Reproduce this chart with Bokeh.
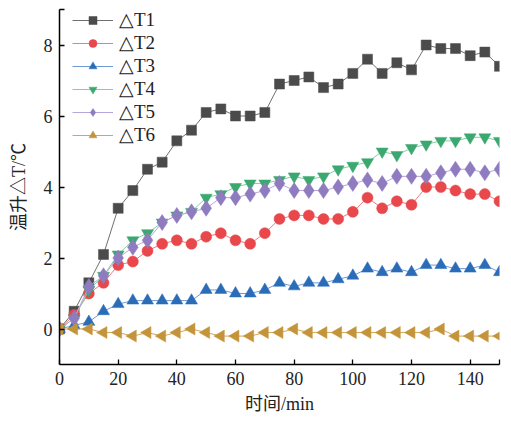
import numpy as np
from bokeh.plotting import figure
from bokeh.models import FixedTicker, Legend, LegendItem, Range1d
from bokeh.embed import file_html
from bokeh.resources import INLINE

time_min = list(range(0, 155, 5))

dT1 = [0.0, 0.5, 1.3, 2.1, 3.4, 3.9, 4.5, 4.7, 5.3, 5.6, 6.1, 6.2, 6.0, 6.0, 6.1, 6.9,
       7.0, 7.1, 6.8, 6.9, 7.2, 7.6, 7.2, 7.5, 7.3, 8.0, 7.9, 7.9, 7.7, 7.8, 7.4]
dT2 = [0.0, 0.4, 1.0, 1.3, 1.8, 1.9, 2.2, 2.4, 2.5, 2.4, 2.6, 2.7, 2.5, 2.4, 2.7, 3.1,
       3.2, 3.2, 3.1, 3.1, 3.3, 3.7, 3.4, 3.6, 3.5, 4.0, 4.0, 3.9, 3.8, 3.8, 3.6]
dT3 = [0.0, 0.1, 0.2, 0.5, 0.7, 0.8, 0.8, 0.8, 0.8, 0.8, 1.1, 1.1, 1.0, 1.0, 1.1, 1.3,
       1.2, 1.3, 1.3, 1.4, 1.5, 1.7, 1.6, 1.7, 1.6, 1.8, 1.8, 1.7, 1.7, 1.8, 1.6]
dT4 = [0.0, 0.3, 1.1, 1.5, 2.1, 2.5, 2.7, 3.0, 3.2, 3.3, 3.7, 3.8, 4.0, 4.1, 4.1, 4.2,
       4.3, 4.2, 4.3, 4.5, 4.6, 4.7, 5.0, 4.9, 5.1, 5.2, 5.3, 5.3, 5.4, 5.4, 5.3]
dT5 = [0.0, 0.3, 1.2, 1.5, 2.0, 2.3, 2.5, 3.0, 3.2, 3.3, 3.4, 3.7, 3.7, 3.8, 3.9, 4.1,
       3.9, 3.9, 3.9, 4.0, 4.1, 4.2, 4.1, 4.3, 4.3, 4.3, 4.4, 4.5, 4.5, 4.4, 4.5]
dT6 = [0.0, 0.0, 0.0, -0.1, -0.1, -0.2, -0.1, -0.2, -0.1, 0.0, -0.1, -0.2, -0.2, -0.2, -0.1, -0.1,
       0.0, -0.1, -0.1, -0.1, -0.1, -0.1, -0.1, -0.1, -0.1, -0.1, 0.0, -0.2, -0.2, -0.2, -0.2]

labels = ["△T1", "△T2", "△T3", "△T4", "△T5", "△T6"]
x_ticks = [0, 20, 40, 60, 80, 100, 120, 140, 150]
y_ticks = [0, 2, 4, 6, 8, 9]

series = [dT1, dT2, dT3, dT4, dT5, dT6]
marker_colors = ["#4b4b4b", "#e8474b", "#2a6cb8", "#3aa86f", "#8f7bbf", "#c4943a"]
line_colors = ["#707070", "#f07a7c", "#6f9bd4", "#82cfa2", "#b6a6dc", "#cfa85e"]
markers = ["square", "circle", "triangle", "inverted_triangle", "diamond", "triangle"]
sizes = [10, 11, 12, 12, 16, 12]
angles = [0, 0, 0, 0, 0, 90]

SERIF = "'Liberation Serif', 'Noto Sans CJK SC', serif"

FW, FH = 440, 355
p = figure(width=509, height=413, frame_width=FW, frame_height=FH,
           output_backend="svg", toolbar_location=None,
           x_range=Range1d(0, 150), y_range=Range1d(-1, 9),
           min_border_left=59, min_border_top=9, min_border_right=10, min_border_bottom=49)
p.outline_line_color = None
p.grid.visible = False
p.background_fill_color = "white"
p.border_fill_color = "white"

items = []
for i, ys in enumerate(series):
    r1 = p.line(time_min, ys, line_color=line_colors[i], line_width=1)
    r2 = p.scatter(time_min, ys, marker=markers[i], size=sizes[i],
                   angle=angles[i], angle_units="deg",
                   fill_color=marker_colors[i], line_color=marker_colors[i], line_width=0.5)
    items.append(LegendItem(label=labels[i], renderers=[r1, r2]))

legend = Legend(items=items, location=(13, FH - 138 + 1), margin=0, padding=0,
                border_line_alpha=0, background_fill_alpha=0,
                glyph_width=41, glyph_height=20, label_height=20, spacing=0,
                label_standoff=6, label_text_font="Liberation Serif",
                label_text_font_size="19px", label_text_color="#222222")
p.add_layout(legend)

for ax in (p.xaxis[0], p.yaxis[0]):
    ax.axis_line_color = "black"
    ax.axis_line_width = 1.5
    ax.major_tick_line_color = "black"
    ax.major_tick_line_width = 1.3
    ax.major_tick_in = 5
    ax.major_tick_out = 0
    ax.minor_tick_line_color = None
    ax.major_label_text_font = SERIF
    ax.major_label_text_font_size = "18px"
    ax.major_label_text_color = "#222222"
    ax.axis_label_text_font = SERIF
    ax.axis_label_text_font_size = "18px"
    ax.axis_label_text_font_style = "normal"
    ax.axis_label_text_color = "#222222"

p.xaxis[0].ticker = FixedTicker(ticks=x_ticks)
p.xaxis[0].major_label_overrides = {150: ""}
p.yaxis[0].ticker = FixedTicker(ticks=y_ticks)
p.yaxis[0].major_label_overrides = {9: ""}
p.xaxis[0].axis_label = "时间/min"
p.yaxis[0].axis_label = "温升△T/℃"
p.xaxis[0].major_label_standoff = 7
p.yaxis[0].major_label_standoff = 7
p.xaxis[0].axis_label_standoff = 6
p.yaxis[0].axis_label_standoff = 12

open("out.html", "w").write(file_html(p, INLINE))
